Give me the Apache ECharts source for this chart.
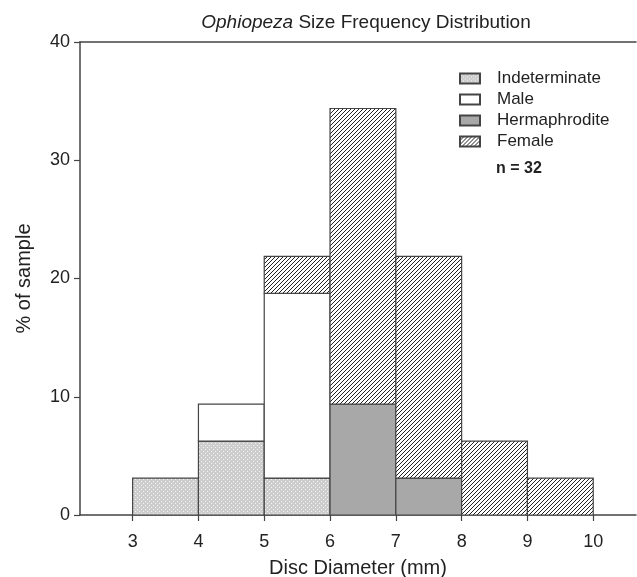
<!DOCTYPE html>
<html lang="en">
<head>
  <meta charset="UTF-8">
  <title>Ophiopeza Size Frequency Distribution</title>
  <script src="https://cdn.jsdelivr.net/npm/echarts@6/dist/echarts.min.js"></script>
</head>
<body style="margin:0">
  <div id="chart" style="width: 637px; height: 577px;"></div>

  <script>
    // bin left edges (mm), each bin is 1 mm wide
    let binStarts = [3, 4, 5, 6, 7, 8, 9]
    let binWidth = 1
    // % of sample per bin (n = 32)
    let indeterminate = [3.125, 6.25, 3.125, 0, 0, 0, 0]
    let male = [0, 3.125, 15.625, 0, 0, 0, 0]
    let hermaphrodite = [0, 0, 0, 9.375, 3.125, 0, 0]
    let female = [0, 0, 3.125, 25, 18.75, 6.25, 3.125]
    let xTicks = [3, 4, 5, 6, 7, 8, 9, 10]
    let yTicks = [0, 10, 20, 30, 40]

    // fill patterns
    function makeCanvas(size, draw) {
      let c = document.createElement('canvas')
      c.width = size
      c.height = size
      draw(c.getContext('2d'))
      return c
    }
    let dotCanvas = makeCanvas(4, ctx => {
      ctx.fillStyle = '#cdcdcd'
      ctx.fillRect(0, 0, 4, 4)
      ctx.fillStyle = '#f4f4f4'
      ctx.fillRect(1, 1, 1, 1)
      ctx.fillRect(3, 3, 1, 1)
    })
    let hatchCanvas = makeCanvas(4, ctx => {
      ctx.fillStyle = '#ffffff'
      ctx.fillRect(0, 0, 4, 4)
      ctx.strokeStyle = '#222'
      ctx.lineWidth = 1
      ctx.beginPath()
      ctx.moveTo(-1, 5); ctx.lineTo(5, -1)
      ctx.moveTo(-1, 1); ctx.lineTo(1, -1)
      ctx.moveTo(3, 5); ctx.lineTo(5, 3)
      ctx.stroke()
    })
    let fills = {
      Indeterminate: { image: dotCanvas, repeat: 'repeat' },
      Male: '#ffffff',
      Hermaphrodite: '#a8a8a8',
      Female: { image: hatchCanvas, repeat: 'repeat' }
    }

    let groups = [
      ['Indeterminate', indeterminate],
      ['Male', male],
      ['Hermaphrodite', hermaphrodite],
      ['Female', female]
    ]

    // stack the groups per bin
    let base = binStarts.map(() => 0)
    let series = groups.map(([name, vals]) => {
      let data = []
      vals.forEach((v, i) => {
        if (v > 0) data.push([binStarts[i], binStarts[i] + binWidth, base[i], base[i] + v])
        base[i] += v
      })
      return {
        name: name,
        type: 'custom',
        itemStyle: { color: fills[name], borderColor: '#444', borderWidth: 1 },
        encode: { x: [0, 1], y: [2, 3] },
        data: data,
        renderItem(params, api) {
          let p0 = api.coord([api.value(0), api.value(3)])
          let p1 = api.coord([api.value(1), api.value(2)])
          return {
            type: 'rect',
            shape: { x: p0[0], y: p0[1], width: p1[0] - p0[0], height: p1[1] - p0[1] },
            style: { fill: fills[name], stroke: '#444', lineWidth: 1.2 }
          }
        }
      }
    })

    let font = 'Liberation Sans, Arial'
    let chart = echarts.init(document.getElementById('chart'))
    let axisColor = '#444'
    chart.setOption({
      animation: false,
      title: {
        text: '{i|Ophiopeza} Size Frequency Distribution',
        left: 361,
        top: 8,
        textAlign: 'center',
        textStyle: {
          fontFamily: font,
          fontSize: 19,
          fontWeight: 'normal',
          color: '#222',
          rich: { i: { fontStyle: 'italic', fontFamily: font, fontSize: 19, color: '#222' } }
        }
      },
      legend: {
        orient: 'vertical',
        left: 454,
        top: 65,
        itemWidth: 20,
        itemHeight: 10,
        itemGap: 4,
        icon: 'rect',
        textStyle: { fontFamily: font, fontSize: 17, lineHeight: 17, color: '#222', padding: [0, 0, 0, 12] },
        data: groups.map(g => g[0])
      },
      graphic: [{
        type: 'text',
        left: 496,
        top: 161,
        style: { text: 'n = 32', font: 'bold 16px Liberation Sans, Arial', fill: '#222' }
      }],
      grid: { left: 80, top: 42, right: 1, bottom: 62, outerBoundsMode: 'none' },
      xAxis: [{
        type: 'value',
        min: 2.2,
        max: 10.65,
        name: 'Disc Diameter (mm)',
        nameLocation: 'middle',
        nameGap: 43,
        nameTextStyle: { fontFamily: font, fontSize: 20, color: '#222' },
        axisLine: { show: true, lineStyle: { color: axisColor, width: 1.5 } },
        axisTick: { show: true, length: 6, customValues: xTicks, lineStyle: { color: axisColor, width: 1.2 } },
        axisLabel: { customValues: xTicks, fontFamily: font, fontSize: 18, color: '#222', margin: 18 },
        splitLine: { show: false }
      }, {
        type: 'value',
        position: 'top',
        min: 2.2,
        max: 10.65,
        axisLine: { show: true, lineStyle: { color: axisColor, width: 1.5 } },
        axisTick: { show: false },
        axisLabel: { show: false },
        splitLine: { show: false }
      }],
      yAxis: {
        type: 'value',
        min: 0,
        max: 40,
        interval: 10,
        name: '% of sample',
        nameLocation: 'middle',
        nameGap: 46,
        nameTextStyle: { fontFamily: font, fontSize: 20, color: '#222' },
        axisLine: { show: true, lineStyle: { color: axisColor, width: 1.5 } },
        axisTick: { show: true, length: 6, lineStyle: { color: axisColor, width: 1.2 } },
        axisLabel: { fontFamily: font, fontSize: 18, color: '#222', margin: 10, formatter: v => yTicks.includes(v) ? v : '' },
        splitLine: { show: false }
      },
      series: series
    })
  </script>
</body>
</html>
